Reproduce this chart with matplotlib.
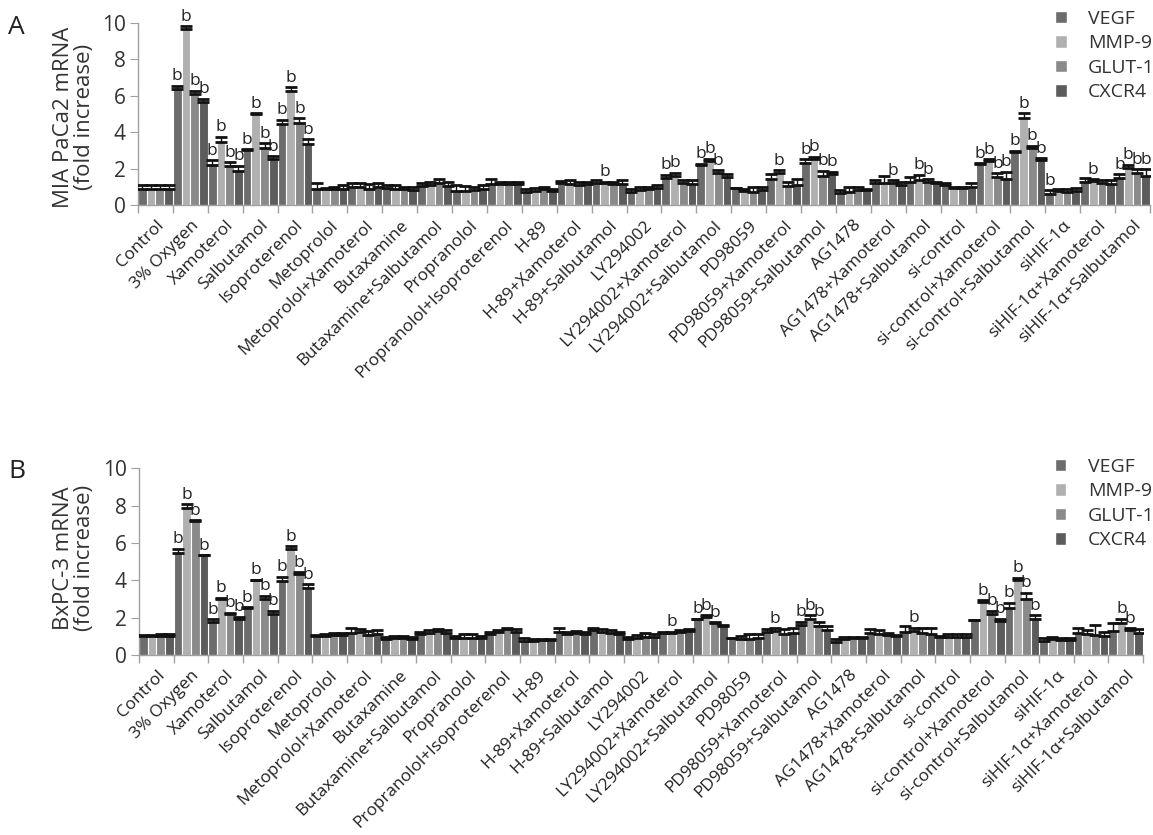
import numpy as np
import matplotlib
matplotlib.use("Agg")
import matplotlib.pyplot as plt
from matplotlib.patches import Patch

plt.rcParams['font.family'] = ['Open Sans', 'DejaVu Sans']

categories = ["Control", "3% Oxygen", "Xamoterol", "Salbutamol", "Isoproterenol",
              "Metoprolol", "Metoprolol+Xamoterol", "Butaxamine", "Butaxamine+Salbutamol",
              "Propranolol", "Propranolol+Isoproterenol", "H-89", "H-89+Xamoterol",
              "H-89+Salbutamol", "LY294002", "LY294002+Xamoterol", "LY294002+Salbutamol",
              "PD98059", "PD98059+Xamoterol", "PD98059+Salbutamol", "AG1478",
              "AG1478+Xamoterol", "AG1478+Salbutamol", "si-control", "si-control+Xamoterol",
              "si-control+Salbutamol", "siHIF-1α", "siHIF-1α+Xamoterol", "siHIF-1α+Salbutamol"]
genes = ["VEGF", "MMP-9", "GLUT-1", "CXCR4"]
colors = ["#6c6c6c", "#b0b0b0", "#8a8a8a", "#5c5c5c"]

# panel A: MIA PaCa2, rows = categories, cols = genes
a_mean = [[0.88, 0.88, 0.90, 0.90], [6.36, 9.65, 6.08, 5.64], [2.20, 3.48, 2.16, 1.88],
          [3.02, 5.00, 3.15, 2.51], [4.45, 6.28, 4.52, 3.35], [0.88, 0.88, 0.90, 0.88],
          [0.97, 1.00, 0.86, 0.97], [0.92, 0.86, 0.86, 0.82], [1.04, 1.10, 1.19, 1.04],
          [0.79, 0.79, 0.82, 0.86], [1.15, 1.15, 1.15, 1.15], [0.73, 0.76, 0.86, 0.79],
          [1.19, 1.15, 1.10, 1.15], [1.23, 1.19, 1.13, 1.13], [0.73, 0.82, 0.86, 0.92],
          [1.50, 1.59, 1.23, 1.15], [2.20, 2.40, 1.75, 1.55], [0.92, 0.79, 0.73, 0.82],
          [1.40, 1.78, 1.05, 1.12], [2.29, 2.50, 1.59, 1.70], [0.64, 0.73, 0.82, 0.82],
          [1.19, 1.23, 1.19, 1.10], [1.28, 1.37, 1.28, 1.23], [1.10, 0.92, 0.92, 1.00],
          [2.25, 2.44, 1.56, 1.41], [2.93, 4.76, 3.11, 2.47], [0.60, 0.79, 0.73, 0.79],
          [1.28, 1.34, 1.23, 1.15], [1.47, 2.01, 1.74, 1.59]]
a_top = [[1.08, 1.08, 1.08, 1.12], [6.54, 9.80, 6.28, 5.82], [2.47, 3.75, 2.34, 2.16],
         [3.05, 5.04, 3.39, 2.69], [4.67, 6.47, 4.76, 3.61], [1.20, 0.92, 1.00, 1.10],
         [1.19, 1.19, 1.13, 1.19], [1.10, 1.10, 1.00, 1.00], [1.19, 1.28, 1.41, 1.28],
         [1.10, 1.04, 1.00, 1.10], [1.41, 1.28, 1.28, 1.28], [0.86, 0.92, 1.00, 0.86],
         [1.32, 1.37, 1.28, 1.28], [1.37, 1.28, 1.28, 1.37], [0.88, 0.97, 1.00, 1.10],
         [1.65, 1.78, 1.37, 1.37], [2.27, 2.55, 1.90, 1.70], [0.92, 0.86, 0.97, 1.00],
         [1.72, 1.90, 1.25, 1.45], [2.50, 2.66, 1.89, 1.83], [0.82, 0.97, 0.97, 0.86],
         [1.37, 1.59, 1.37, 1.28], [1.56, 1.65, 1.41, 1.28], [1.19, 1.00, 1.00, 1.23],
         [2.29, 2.50, 1.74, 1.83], [2.98, 5.04, 3.24, 2.56], [0.82, 0.86, 0.86, 0.92],
         [1.47, 1.40, 1.37, 1.37], [1.70, 2.20, 1.96, 1.96]]
a_sig = ["0000", "1111", "1111", "1111", "1111", "0000", "0000", "0000", "0000", "0000",
         "0000", "0000", "0000", "0100", "0000", "1100", "1110", "0000", "0100", "1111",
         "0000", "0010", "0110", "0000", "1111", "1111", "1000", "0100", "1111"]

# panel B: BxPC-3
b_mean = [[1.03, 1.03, 1.00, 1.03], [5.47, 7.87, 7.19, 5.33], [1.74, 3.02, 2.18, 1.92],
          [2.54, 4.01, 2.98, 2.22], [3.96, 5.68, 4.32, 3.60], [1.03, 1.00, 1.07, 1.07],
          [1.17, 1.24, 1.07, 1.12], [0.83, 0.89, 0.89, 0.83], [1.15, 1.19, 1.30, 1.19],
          [0.89, 0.89, 0.89, 0.89], [1.15, 1.24, 1.37, 1.24], [0.76, 0.76, 0.80, 0.80],
          [1.24, 1.15, 1.19, 1.15], [1.33, 1.24, 1.19, 1.15], [0.83, 0.89, 0.98, 0.98],
          [1.19, 1.19, 1.24, 1.30], [1.90, 2.04, 1.69, 1.55], [0.89, 0.83, 0.83, 0.89],
          [1.24, 1.30, 1.12, 1.19], [1.60, 1.95, 1.55, 1.33], [0.71, 0.83, 0.89, 0.89],
          [1.19, 1.15, 1.07, 1.00], [1.24, 1.30, 1.19, 1.15], [0.94, 0.98, 0.98, 0.94],
          [1.86, 2.84, 2.22, 1.81], [2.49, 4.03, 3.02, 1.95], [0.76, 0.83, 0.80, 0.80],
          [1.19, 1.15, 1.07, 1.00], [1.30, 1.69, 1.33, 1.19]]
b_top = [[1.07, 1.07, 1.12, 1.15], [5.68, 8.08, 7.21, 5.35], [1.92, 3.07, 2.27, 2.06],
         [2.56, 4.03, 3.16, 2.36], [4.19, 5.83, 4.44, 3.78], [1.05, 1.12, 1.17, 1.17],
         [1.42, 1.39, 1.30, 1.33], [0.98, 1.00, 1.00, 0.94], [1.24, 1.33, 1.37, 1.33],
         [1.00, 1.12, 1.12, 1.00], [1.24, 1.33, 1.47, 1.37], [0.89, 0.85, 0.85, 0.85],
         [1.42, 1.24, 1.30, 1.24], [1.47, 1.37, 1.33, 1.24], [0.98, 1.07, 1.19, 1.15],
         [1.24, 1.24, 1.33, 1.37], [1.95, 2.13, 1.74, 1.60], [0.92, 1.00, 1.12, 1.15],
         [1.37, 1.42, 1.37, 1.42], [1.78, 2.13, 1.78, 1.55], [0.83, 0.98, 0.98, 0.98],
         [1.37, 1.33, 1.19, 1.07], [1.55, 1.47, 1.42, 1.42], [1.00, 1.12, 1.12, 1.12],
         [1.88, 2.93, 2.36, 1.95], [2.79, 4.14, 3.32, 2.13], [0.89, 0.94, 0.89, 0.89],
         [1.47, 1.33, 1.60, 1.24], [1.69, 1.95, 1.42, 1.37]]
b_sig = ["0000", "1111", "1111", "1111", "1111", "0000", "0000", "0000", "0000", "0000",
         "0000", "0000", "0000", "0000", "0000", "0100", "1110", "0000", "0100", "1110",
         "0000", "0000", "0100", "0000", "0111", "1111", "0000", "0000", "0110"]

fig = plt.figure(figsize=(11.53, 8.35), dpi=100)
axA = fig.add_axes([0.1197, 0.7545, 0.8777, 0.2183])
axB = fig.add_axes([0.1206, 0.2156, 0.8708, 0.2236])

grey = "#a0a0a0"
n = len(categories)
w = 0.25


def panel(ax, mean, top, sig, ylab, label_y, leg_xy):
    mean = np.array(mean)
    top = np.array(top)
    x0 = np.arange(n)
    for j in range(4):
        xs = x0 + (j + 0.5) * w
        ax.bar(xs, mean[:, j], width=w, color=colors[j], edgecolor="white",
               linewidth=0.8, zorder=2)
        up = np.clip(top[:, j] - mean[:, j], 0, None)
        ax.errorbar(xs, mean[:, j], yerr=[np.zeros(n), up], fmt="none",
                    ecolor="#111111", elinewidth=1.0, capsize=4, capthick=2.0, zorder=3)
        for i in range(n):
            if sig[i][j] == "1":
                ax.text(xs[i], top[i, j] + 0.08, "b", ha="center", va="bottom",
                        fontsize=12.5, color="#222222")
    ax.set_xlim(0, n)
    ax.set_ylim(0, 10)
    ax.set_yticks([0, 2, 4, 6, 8, 10])
    ax.set_xticks(np.arange(n + 1), minor=True)
    ax.set_xticks(np.arange(n) + 0.5)
    ax.set_xticklabels(categories, rotation=45, ha="right", rotation_mode="anchor",
                       fontsize=12.4, color="#222222")
    ax.tick_params(axis="x", which="major", length=0, pad=9)
    ax.tick_params(axis="x", which="minor", length=6, color=grey, width=1)
    ax.tick_params(axis="y", length=6, color=grey, labelsize=15, labelcolor="#333333", pad=3)
    for s in ["top", "right"]:
        ax.spines[s].set_visible(False)
    for s in ["left", "bottom"]:
        ax.spines[s].set_color(grey)
        ax.spines[s].set_linewidth(1)
    handles = [Patch(facecolor=c, edgecolor="white") for c in colors]
    ax.legend(handles, genes, loc="upper left", bbox_to_anchor=leg_xy,
              frameon=False, fontsize=14, handlelength=0.6, handleheight=0.6,
              handletextpad=1.1, labelspacing=0.33, borderpad=0, borderaxespad=0,
              labelcolor="#333333")
    fig.text(74 / 1153, label_y, ylab, rotation=90, ha="center", va="center",
             multialignment="center", fontsize=16, linespacing=1.0, color="#333333")


panel(axA, a_mean, a_top, a_sig, "MIA PaCa2 mRNA\n(fold increase)", 0.860, (0.906, 1.07))
panel(axB, b_mean, b_top, b_sig, "BxPC-3 mRNA\n(fold increase)", 0.332, (0.912, 1.055))
fig.text(16 / 1153, 1 - 28 / 835, "A", fontsize=19, ha="center", va="center", color="#222222")
fig.text(17 / 1153, 1 - 472 / 835, "B", fontsize=19, ha="center", va="center", color="#222222")

fig.savefig("out.png", dpi=100)
